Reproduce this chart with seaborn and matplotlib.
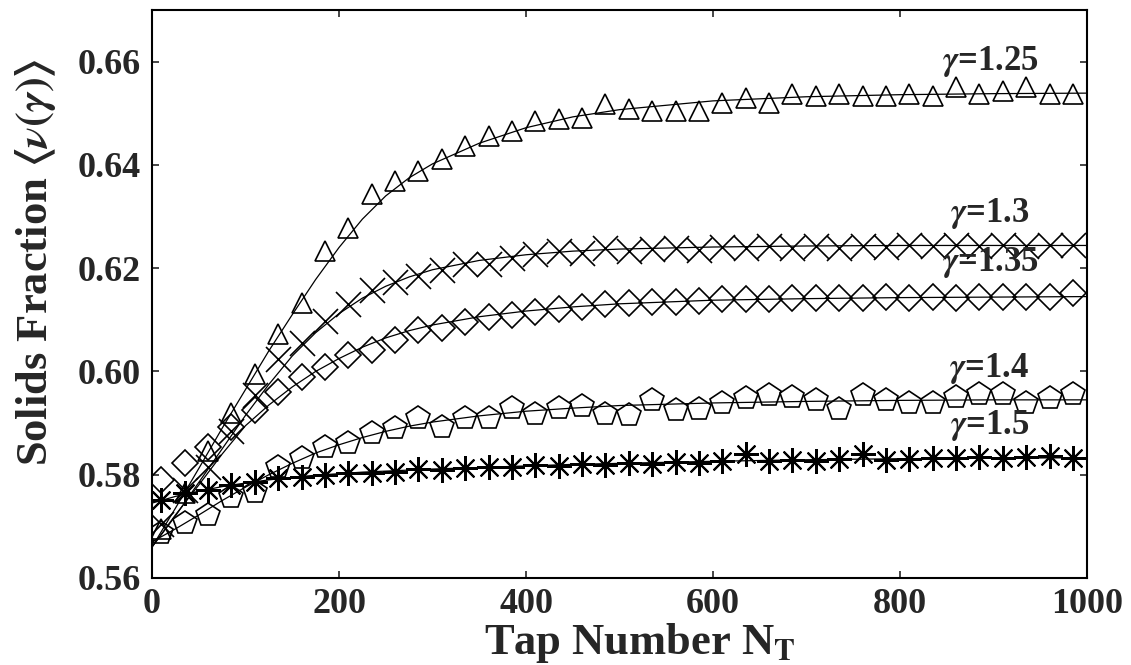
import matplotlib
matplotlib.use("Agg")
import matplotlib.pyplot as plt
import seaborn as sns

# ---------------- data ----------------
taps = [10, 35, 60, 85, 110, 135, 160, 185, 210, 235,
        260, 285, 310, 335, 360, 385, 410, 435, 460, 485,
        510, 535, 560, 585, 610, 635, 660, 685, 710, 735,
        760, 785, 810, 835, 860, 885, 910, 935, 960, 985]

g125 = [0.5695, 0.5765, 0.5845, 0.5920, 0.5996, 0.6073, 0.6133, 0.6234, 0.6278, 0.6344,
        0.6369, 0.6388, 0.6411, 0.6437, 0.6456, 0.6466, 0.6485, 0.6489, 0.6491, 0.6518,
        0.6508, 0.6504, 0.6504, 0.6504, 0.6520, 0.6530, 0.6520, 0.6537, 0.6533, 0.6537,
        0.6533, 0.6533, 0.6537, 0.6533, 0.6550, 0.6537, 0.6543, 0.6550, 0.6537, 0.6537]

g130 = [0.5705, 0.5770, 0.5815, 0.5885, 0.5955, 0.6025, 0.6055, 0.6098, 0.6131, 0.6158,
        0.6174, 0.6184, 0.6197, 0.6209, 0.6209, 0.6220, 0.6228, 0.6234, 0.6230, 0.6240,
        0.6234, 0.6238, 0.6240, 0.6236, 0.6241, 0.6239, 0.6242, 0.6240, 0.6243, 0.6240,
        0.6242, 0.6241, 0.6244, 0.6242, 0.6245, 0.6243, 0.6244, 0.6242, 0.6245, 0.6244]

g135 = [0.5789, 0.5822, 0.5853, 0.5892, 0.5925, 0.5960, 0.5989, 0.6008, 0.6031, 0.6041,
        0.6060, 0.6080, 0.6085, 0.6095, 0.6105, 0.6110, 0.6115, 0.6120, 0.6125, 0.6130,
        0.6133, 0.6135, 0.6135, 0.6137, 0.6140, 0.6140, 0.6141, 0.6142, 0.6143, 0.6142,
        0.6143, 0.6144, 0.6143, 0.6144, 0.6143, 0.6145, 0.6144, 0.6145, 0.6145, 0.6152]

g140 = [0.5687, 0.5706, 0.5722, 0.5757, 0.5766, 0.5815, 0.5832, 0.5853, 0.5861, 0.5880,
        0.5890, 0.5909, 0.5892, 0.5909, 0.5909, 0.5930, 0.5918, 0.5930, 0.5934, 0.5918,
        0.5915, 0.5944, 0.5925, 0.5928, 0.5938, 0.5948, 0.5954, 0.5950, 0.5944, 0.5928,
        0.5954, 0.5944, 0.5938, 0.5938, 0.5950, 0.5957, 0.5957, 0.5938, 0.5948, 0.5957]

g150 = [0.5751, 0.5764, 0.5770, 0.5780, 0.5786, 0.5793, 0.5795, 0.5799, 0.5803, 0.5803,
        0.5805, 0.5812, 0.5809, 0.5813, 0.5815, 0.5814, 0.5818, 0.5817, 0.5820, 0.5818,
        0.5822, 0.5821, 0.5824, 0.5822, 0.5827, 0.5840, 0.5826, 0.5829, 0.5827, 0.5830,
        0.5840, 0.5829, 0.5831, 0.5833, 0.5832, 0.5834, 0.5833, 0.5834, 0.5836, 0.5832]

# fitted curves
fit_taps = [0, 25, 50, 75, 100, 125, 150, 175, 200, 225, 250, 275, 300,
            350, 400, 450, 500, 600, 700, 800, 900, 1000]
fit125 = [0.5660, 0.5735, 0.5812, 0.5890, 0.5965, 0.6040, 0.6110, 0.6178, 0.6240, 0.6295,
          0.6340, 0.6375, 0.6402, 0.6442, 0.6472, 0.6493, 0.6507, 0.6524, 0.6532, 0.6536,
          0.6538, 0.6539]
fit130 = [0.5660, 0.5720, 0.5785, 0.5850, 0.5915, 0.5975, 0.6030, 0.6075, 0.6112, 0.6142,
          0.6165, 0.6183, 0.6197, 0.6215, 0.6226, 0.6233, 0.6237, 0.6241, 0.6243, 0.6244,
          0.6244, 0.6244]
fit135 = [0.5660, 0.5722, 0.5780, 0.5840, 0.5895, 0.5935, 0.5970, 0.6000, 0.6025, 0.6047,
          0.6065, 0.6079, 0.6090, 0.6106, 0.6117, 0.6125, 0.6131, 0.6138, 0.6141, 0.6143,
          0.6144, 0.6145]
fit140 = [0.5670, 0.5695, 0.5722, 0.5750, 0.5776, 0.5800, 0.5822, 0.5842, 0.5858, 0.5872,
          0.5884, 0.5894, 0.5902, 0.5914, 0.5923, 0.5929, 0.5934, 0.5939, 0.5942, 0.5944,
          0.5945, 0.5945]
fit150 = [0.5745, 0.5758, 0.5768, 0.5777, 0.5784, 0.5790, 0.5795, 0.5799, 0.5802, 0.5805,
          0.5807, 0.5809, 0.5811, 0.5814, 0.5817, 0.5820, 0.5822, 0.5826, 0.5829, 0.5831,
          0.5832, 0.5833]

labels = [r"$\gamma$=1.25", r"$\gamma$=1.3", r"$\gamma$=1.35", r"$\gamma$=1.4", r"$\gamma$=1.5"]
label_x = [948, 938, 948, 938, 938]
label_y = [0.6601, 0.6305, 0.6211, 0.6006, 0.5896]

x_ticks = [0, 200, 400, 600, 800, 1000]
y_ticks = [0.56, 0.58, 0.60, 0.62, 0.64, 0.66]
y_ticklabels = ["0.56", "0.58", "0.60", "0.62", "0.64", "0.66"]

# ---------------- style ----------------
sns.set_style("ticks")
plt.rcParams["font.family"] = ["Liberation Serif", "DejaVu Serif"]
plt.rcParams["font.weight"] = "bold"
plt.rcParams["mathtext.fontset"] = "stix"
plt.rcParams["axes.linewidth"] = 1.5

fig = plt.figure(figsize=(11.31, 6.65), dpi=100)
ax = fig.add_axes([152 / 1131, 87 / 665, 935 / 1131, 568 / 665])

series = [
    (g125, fit125, "^", 15, 1.2),
    (g130, fit130, "x", 18, 1.2),
    (g135, fit135, "D", 13, 1.2),
    (g140, fit140, "p", 17.5, 1.2),
    (g150, fit150, (8, 2, 0), 18, 1.5),
]

for vals, fit, mk, ms, mew in series:
    sns.lineplot(x=fit_taps, y=fit, color="black", linewidth=0.9, ax=ax)
    sns.lineplot(x=taps, y=vals, color="black", linestyle="", marker=mk,
                 markersize=ms, markerfacecolor="none", markeredgecolor="black",
                 markeredgewidth=mew, ax=ax)

for lab, lx, ly in zip(labels, label_x, label_y):
    ax.text(lx, ly, lab, ha="right", va="center", fontsize=25, fontweight="bold")

ax.set_xlim(0, 1000)
ax.set_ylim(0.56, 0.67)
ax.set_xticks(x_ticks)
ax.set_xticklabels([str(t) for t in x_ticks])
ax.set_yticks(y_ticks)
ax.set_yticklabels(y_ticklabels)
ax.tick_params(direction="in", top=True, right=True, length=5, width=1.2,
               labelsize=26)
ax.tick_params(axis="x", pad=7)
ax.tick_params(axis="y", pad=8)
for lbl in ax.get_xticklabels() + ax.get_yticklabels():
    lbl.set_fontweight("bold")

ax.set_xlabel(r"Tap Number N$_{\mathbf{T}}$", fontsize=32, fontweight="bold")
ax.set_ylabel(r"Solids Fraction $\langle\nu(\gamma)\rangle$", fontsize=32, fontweight="bold")
ax.xaxis.set_label_coords(0.522, -0.075)
ax.yaxis.set_label_coords(-0.10, 0.556)

for s in ax.spines.values():
    s.set_linewidth(1.5)
    s.set_color("black")

fig.savefig("out.png", dpi=100, facecolor="white")
